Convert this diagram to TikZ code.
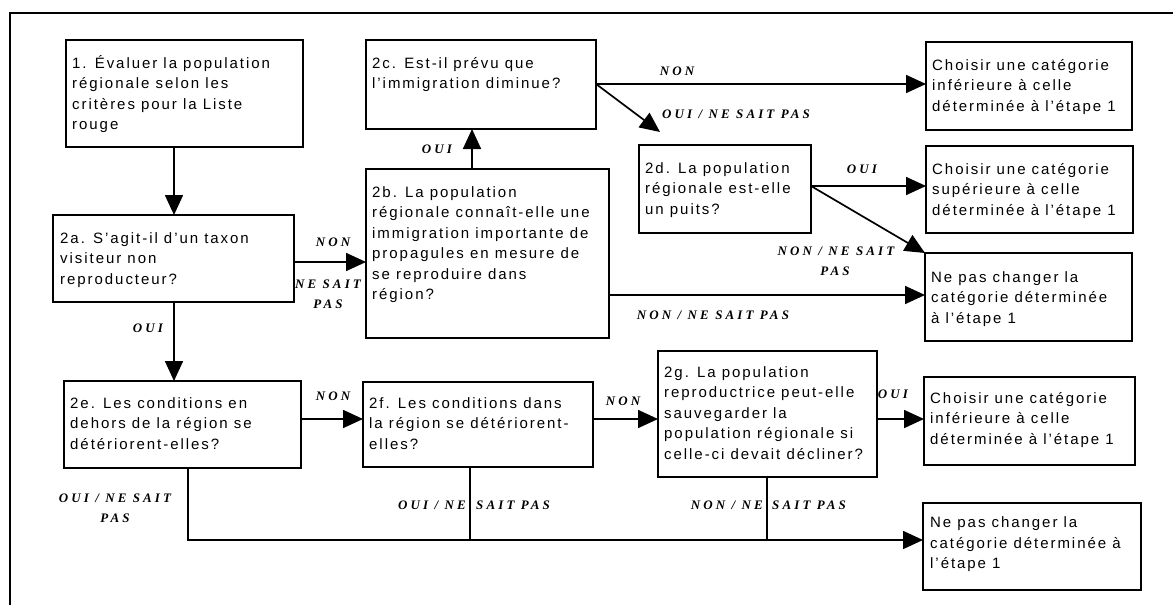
\documentclass[tikz,border=0pt]{standalone}
\usepackage{fontspec}
\setmainfont{Liberation Sans}
\newfontfamily\boxfont[LetterSpace=13]{Liberation Sans}
\newfontfamily\lblfont[LetterSpace=24]{Liberation Serif}
\usetikzlibrary{arrows.meta}
\begin{document}
\begin{tikzpicture}[x=1pt,y=-1pt,
  box/.style={draw, line width=1.7pt, rectangle, inner sep=0pt, outer sep=0pt, anchor=north west},
  rbox/.style={box, line width=2.6pt},
  txt/.style={anchor=north west, inner sep=0pt, align=left, font=\boxfont\fontsize{15}{20.5}\selectfont},
  lbl/.style={inner sep=0pt, font=\lblfont\bfseries\itshape\fontsize{13}{15}\selectfont},
  conn/.style={line width=1.7pt},
  arr/.style={conn, -{Triangle[length=20pt,width=18pt]}}]
\useasboundingbox (0,0) rectangle (1173,605);
\draw[line width=1.6pt] (10,605) -- (10,13) -- (1173,13);

% boxes
\node[box, minimum width=237pt, minimum height=107pt] (b1) at (66,40) {};
\node[box, minimum width=241pt, minimum height=87pt] (b2a) at (53,215) {};
\node[box, minimum width=237pt, minimum height=87pt] (b2e) at (64,381) {};
\node[box, minimum width=230pt, minimum height=89pt] (b2c) at (366,40) {};
\node[box, minimum width=243pt, minimum height=169pt] (b2b) at (366,169) {};
\node[box, minimum width=172pt, minimum height=88pt] (b2d) at (639,145) {};
\node[box, minimum width=230pt, minimum height=85pt] (b2f) at (363,382) {};
\node[box, minimum width=219pt, minimum height=126pt] (b2g) at (658,351) {};
\node[rbox, minimum width=206pt, minimum height=88pt] (r1) at (926,42) {};
\node[rbox, minimum width=207pt, minimum height=87pt] (r2) at (926,146) {};
\node[rbox, minimum width=207pt, minimum height=88pt] (r3) at (925,253) {};
\node[rbox, minimum width=211pt, minimum height=88pt] (r4) at (924,377) {};
\node[rbox, minimum width=218pt, minimum height=87pt] (r5) at (923,503) {};

% box texts
\node[txt] (t1) at ([xshift=6pt,yshift=-13.6pt]b1.north west) {\strut 1. Évaluer la population\\ régionale selon les\\ critères pour la Liste\\ rouge};
\node[txt] (t2a) at ([xshift=7pt,yshift=-13.6pt]b2a.north west) {\strut 2a. S’agit-il d’un taxon\\ visiteur non\\ reproducteur?};
\node[txt] (t2e) at ([xshift=6pt,yshift=-12.6pt]b2e.north west) {\strut 2e. Les conditions en\\ dehors de la région se\\ détériorent-elles?};
\node[txt] (t2c) at ([xshift=6pt,yshift=-13.6pt]b2c.north west) {\strut 2c. Est-il prévu que\\ l’immigration diminue?};
\node[txt] (t2b) at ([xshift=6pt,yshift=-13.6pt]b2b.north west) {\strut 2b. La population\\ régionale connaît-elle une\\ immigration importante de\\ propagules en mesure de\\ se reproduire dans\\ région?};
\node[txt] (t2d) at ([xshift=6pt,yshift=-13.6pt]b2d.north west) {\strut 2d. La population\\ régionale est-elle\\ un puits?};
\node[txt] (t2f) at ([xshift=6pt,yshift=-11.6pt]b2f.north west) {\strut 2f. Les conditions dans\\ la région se détériorent-\\ elles?};
\node[txt] (t2g) at ([xshift=6pt,yshift=-11.6pt]b2g.north west) {\strut 2g. La population\\ reproductrice peut-elle\\ sauvegarder la\\ population régionale si\\ celle-ci devait décliner?};
\node[txt] (tr1) at ([xshift=6pt,yshift=-13.6pt]r1.north west) {\strut Choisir une catégorie\\ inférieure à celle\\ déterminée à l’étape 1};
\node[txt] (tr2) at ([xshift=6pt,yshift=-13.6pt]r2.north west) {\strut Choisir une catégorie\\ supérieure à celle\\ déterminée à l’étape 1};
\node[txt] (tr3) at ([xshift=6pt,yshift=-14.6pt]r3.north west) {\strut Ne pas changer la\\ catégorie déterminée\\ à l’étape 1};
\node[txt] (tr4) at ([xshift=6pt,yshift=-11.6pt]r4.north west) {\strut Choisir une catégorie\\ inférieure à celle\\ déterminée à l’étape 1};
\node[txt] (tr5) at ([xshift=7pt,yshift=-10pt]r5.north west) {\strut Ne pas changer la\\ catégorie déterminée à\\ l’étape 1};

% helper coordinates
\coordinate (xa) at (174,0);
\coordinate (ya) at (0,262);
\coordinate (xb) at (472,0);
\coordinate (yc) at (0,84);
\coordinate (c2d) at (660,132);
\coordinate (yd) at (0,186);
\coordinate (yb) at (0,295);
\coordinate (ye) at (0,419);
\coordinate (xe) at (188,0);
\coordinate (xf) at (470,0);
\coordinate (xg) at (767,0);
\coordinate (ybot) at (0,540);

% connectors
\draw[arr] (b1.south -| xa) -- (b2a.north -| xa);
\draw[arr] (b2a.south -| xa) -- (b2e.north -| xa);
\draw[arr] (b2a.east |- ya) -- (b2b.west |- ya);
\draw[arr] (b2b.north -| xb) -- (b2c.south -| xb);
\draw[arr] (b2c.east |- yc) -- (r1.west |- yc);
\draw[arr] (b2c.east |- yc) -- (c2d);
\draw[arr] (b2d.east |- yd) -- (r2.west |- yd);
\draw[arr] (b2d.east |- yd) -- (r3.north west);
\draw[arr] (b2b.east |- yb) -- (r3.west |- yb);
\draw[arr] (b2e.east |- ye) -- (b2f.west |- ye);
\draw[arr] (b2f.east |- ye) -- (b2g.west |- ye);
\draw[arr] (b2g.east |- ye) -- (r4.west |- ye);
\draw[arr] (b2e.south -| xe) |- (r5.west |- ybot);
\draw[conn] (b2f.south -| xf) -- (xf |- ybot);
\draw[conn] (b2g.south -| xg) -- (xg |- ybot);

% labels
\node[lbl, anchor=base] (l1) at (677,75) {NON};
\node[lbl, anchor=base west] (l2) at (662,118) {OUI / NE SAIT PAS};
\node[lbl, anchor=base] (l3) at (437,153) {OUI};
\node[lbl, anchor=base] (l4) at (862,173) {OUI};
\node[lbl, anchor=base] (l5) at (836,255) {NON / NE SAIT};
\node[lbl, anchor=base] (l6) at (835,275) {PAS};
\node[lbl, anchor=base] (l7) at (713,319) {NON / NE SAIT PAS};
\node[lbl, anchor=base] (l8) at (333,246) {NON};
\node[lbl, anchor=base] (l9) at (328,288) {NE SAIT};
\node[lbl, anchor=base] (l10) at (328,308) {PAS};
\node[lbl, anchor=base] (l11) at (148,332) {OUI};
\node[lbl, anchor=base] (l12) at (333,400) {NON};
\node[lbl, anchor=base] (l13) at (115,502) {OUI / NE SAIT};
\node[lbl, anchor=base] (l14) at (115,522) {PAS};
\node[lbl, anchor=base] (l15) at (623,405) {NON};
\node[lbl, anchor=base east] (l16) at (466,509) {OUI / NE};
\node[lbl, anchor=base west] (l17) at (476,509) {SAIT PAS};
\node[lbl, anchor=base east] (l18) at (763,509) {NON / NE};
\node[lbl, anchor=base west] (l19) at (772,509) {SAIT PAS};
\node[lbl, anchor=base] (l20) at (893,398) {OUI};
\end{tikzpicture}
\end{document}
